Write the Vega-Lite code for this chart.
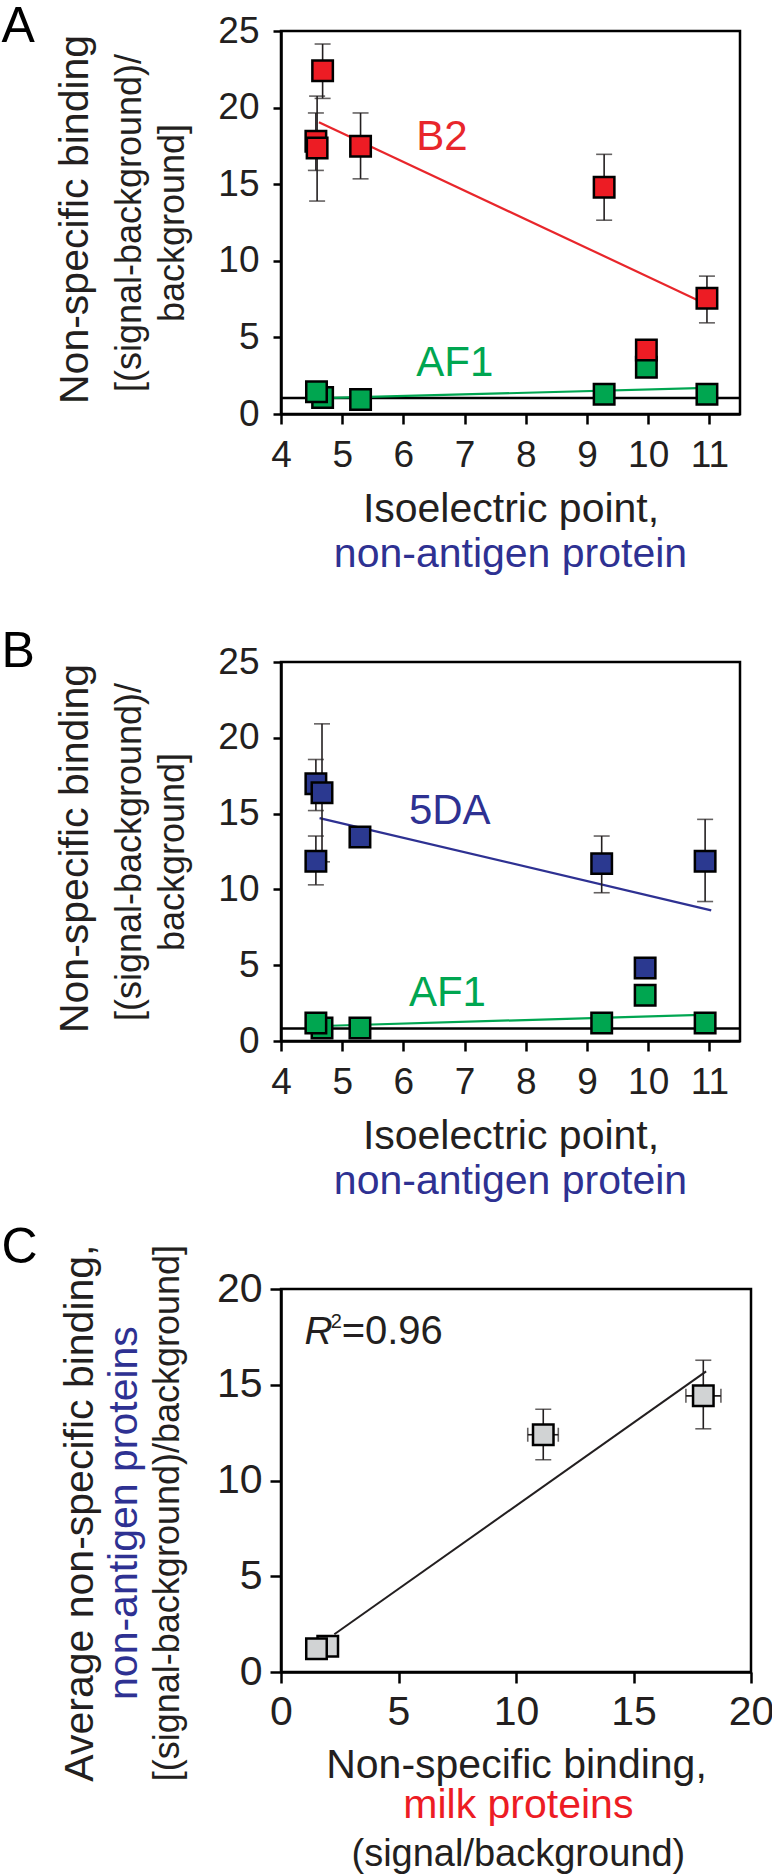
{
  "$schema": "https://vega.github.io/schema/vega-lite/v6.json",
  "background": "white",
  "padding": {"left": 0, "top": 0, "right": 0, "bottom": 0},
  "config": {
    "font": "Liberation Sans",
    "view": {"stroke": "#000", "strokeWidth": 2.5},
    "axis": {"grid": false, "domainColor": "#000", "domainWidth": 2.5, "tickColor": "#000", "tickWidth": 2.5, "labelColor": "#231f20", "titleColor": "#231f20", "labelFont": "Liberation Sans", "titleFont": "Liberation Sans", "titleFontWeight": "normal", "labelFlush": false, "labelOverlap": false, "labelBound": false, "titleLimit": 2000, "labelLimit": 500}
  },
  "resolve": {"scale": {"color": "independent", "fill": "independent"}},
  "datasets": {
    "aSq": [
      {"pi": 4.68, "v": 1.08, "grp": "AF1"},
      {"pi": 4.58, "v": 1.46, "grp": "AF1"},
      {"pi": 5.30, "v": 0.94, "grp": "AF1"},
      {"pi": 9.28, "v": 1.29, "grp": "AF1"},
      {"pi": 10.96, "v": 1.29, "grp": "AF1"},
      {"pi": 9.97, "v": 3.05, "grp": "AF1"},
      {"pi": 9.97, "v": 4.17, "grp": "B2"},
      {"pi": 4.57, "v": 17.8, "grp": "B2"},
      {"pi": 4.59, "v": 17.36, "grp": "B2"},
      {"pi": 4.68, "v": 22.4, "grp": "B2"},
      {"pi": 5.30, "v": 17.48, "grp": "B2"},
      {"pi": 9.28, "v": 14.8, "grp": "B2"},
      {"pi": 10.96, "v": 7.55, "grp": "B2"}
    ],
    "aErr": [
      {"pi": 4.68, "lo": 20.6, "hi": 24.15},
      {"pi": 4.57, "lo": 15.9, "hi": 19.65},
      {"pi": 4.59, "lo": 13.9, "hi": 20.75},
      {"pi": 5.30, "lo": 15.35, "hi": 19.65},
      {"pi": 9.28, "lo": 12.65, "hi": 16.95},
      {"pi": 10.96, "lo": 5.95, "hi": 9.0}
    ],
    "aFit": [
      {"pi": 4.62, "v": 19.05, "grp": "B2"},
      {"pi": 10.95, "v": 7.17, "grp": "B2"},
      {"pi": 4.65, "v": 1.03, "grp": "AF1"},
      {"pi": 10.96, "v": 1.7, "grp": "AF1"}
    ],
    "bSq": [
      {"pi": 4.67, "v": 0.86, "grp": "AF1"},
      {"pi": 4.57, "v": 1.19, "grp": "AF1"},
      {"pi": 5.29, "v": 0.86, "grp": "AF1"},
      {"pi": 9.24, "v": 1.19, "grp": "AF1"},
      {"pi": 10.93, "v": 1.19, "grp": "AF1"},
      {"pi": 9.95, "v": 3.01, "grp": "AF1"},
      {"pi": 9.95, "v": 4.81, "grp": "5DA"},
      {"pi": 4.57, "v": 11.85, "grp": "5DA"},
      {"pi": 5.29, "v": 13.45, "grp": "5DA"},
      {"pi": 9.24, "v": 11.7, "grp": "5DA"},
      {"pi": 10.93, "v": 11.85, "grp": "5DA"},
      {"pi": 4.57, "v": 16.97, "grp": "5DA"},
      {"pi": 4.67, "v": 16.37, "grp": "5DA"}
    ],
    "bErr": [
      {"pi": 4.57, "lo": 15.2, "hi": 18.57},
      {"pi": 4.67, "lo": 11.82, "hi": 20.92},
      {"pi": 4.57, "lo": 10.3, "hi": 13.52},
      {"pi": 5.29, "lo": 12.95, "hi": 13.95},
      {"pi": 9.24, "lo": 9.78, "hi": 13.52},
      {"pi": 10.93, "lo": 9.2, "hi": 14.62}
    ],
    "bFit": [
      {"pi": 4.63, "v": 14.7, "grp": "5DA"},
      {"pi": 11.03, "v": 8.62, "grp": "5DA"},
      {"pi": 4.67, "v": 0.99, "grp": "AF1"},
      {"pi": 11.0, "v": 1.74, "grp": "AF1"}
    ],
    "cSq": [
      {"m": 1.99, "n": 1.35},
      {"m": 1.51, "n": 1.21},
      {"m": 11.16, "n": 12.39},
      {"m": 17.97, "n": 14.42}
    ],
    "cErr": [
      {"m": 11.16, "n": 12.39, "lo": 11.08, "hi": 13.72, "xlo": 10.5, "xhi": 11.8},
      {"m": 17.97, "n": 14.42, "lo": 12.7, "hi": 16.28, "xlo": 17.23, "xhi": 18.72}
    ],
    "cFit": [
      {"m": 2.27, "n": 1.97},
      {"m": 18.09, "n": 15.7}
    ]
  },
  "columns": 1,
  "spacing": 248,
  "bounds": "flush",
  "align": "each",
  "concat": [
    {
      "width": 459,
      "height": 383,
      "layer": [
        {"data": {"name": "aSq"}, "mark": {"type": "square", "size": 420, "opacity": 0},
         "encoding": {
           "x": {"field": "pi", "type": "quantitative", "scale": {"domain": [4, 11.5], "nice": false},
                 "axis": {"values": [4, 5, 6, 7, 8, 9, 10, 11], "format": "d", "tickSize": 10, "labelPadding": 13.5, "labelFontSize": 37, "title": "Isoelectric point,", "titleFontSize": 41, "titlePadding": 15.5}},
           "y": {"field": "v", "type": "quantitative", "scale": {"domain": [0, 25], "nice": false},
                 "axis": {"values": [0, 5, 10, 15, 20, 25], "format": "d", "tickSize": 8, "labelPadding": 14, "labelFontSize": 37, "title": ["[(signal-background)/", "background]"], "titleFontSize": 36, "titleLineHeight": 43, "titlePadding": 26}}}},
        {"data": {"values": [{}]}, "mark": {"type": "rule", "color": "#000", "strokeWidth": 2.5},
         "encoding": {"y": {"datum": 1.05, "type": "quantitative"}}},
        {"data": {"name": "aFit"}, "mark": {"type": "line", "strokeWidth": 2.2},
         "encoding": {
           "x": {"field": "pi", "type": "quantitative"},
           "y": {"field": "v", "type": "quantitative"},
           "color": {"field": "grp", "type": "nominal", "scale": {"domain": ["B2", "AF1"], "range": ["#e8262b", "#00a651"]}, "legend": null}}},
        {"data": {"name": "aErr"}, "mark": {"type": "rule", "color": "#231f20", "strokeWidth": 1.6},
         "encoding": {
           "x": {"field": "pi", "type": "quantitative"},
           "y": {"field": "lo", "type": "quantitative"},
           "y2": {"field": "hi"}}},
        {"data": {"name": "aErr"}, "mark": {"type": "tick", "orient": "horizontal", "size": 16, "thickness": 1.6, "color": "#231f20"},
         "encoding": {
           "x": {"field": "pi", "type": "quantitative"},
           "y": {"field": "lo", "type": "quantitative"}}},
        {"data": {"name": "aErr"}, "mark": {"type": "tick", "orient": "horizontal", "size": 16, "thickness": 1.6, "color": "#231f20"},
         "encoding": {
           "x": {"field": "pi", "type": "quantitative"},
           "y": {"field": "hi", "type": "quantitative"}}},
        {"data": {"name": "aSq"}, "mark": {"type": "square", "size": 420, "stroke": "#000", "strokeWidth": 2.5, "opacity": 1, "filled": true},
         "encoding": {
           "x": {"field": "pi", "type": "quantitative"},
           "y": {"field": "v", "type": "quantitative"},
           "fill": {"field": "grp", "type": "nominal", "scale": {"domain": ["B2", "AF1"], "range": ["#ed1c24", "#00a650"]}, "legend": null}}},
        {"data": {"values": [{}]}, "mark": {"type": "text", "text": "A", "align": "left", "baseline": "alphabetic", "fontSize": 50, "color": "#000"},
         "encoding": {"x": {"datum": -0.567, "type": "quantitative"}, "y": {"datum": 24.3, "type": "quantitative"}}},
        {"data": {"values": [{}]}, "mark": {"type": "text", "text": "B2", "align": "left", "baseline": "alphabetic", "fontSize": 42, "color": "#e8262b"},
         "encoding": {"x": {"datum": 6.21, "type": "quantitative"}, "y": {"datum": 17.2, "type": "quantitative"}}},
        {"data": {"values": [{}]}, "mark": {"type": "text", "text": "AF1", "align": "left", "baseline": "alphabetic", "fontSize": 42, "color": "#00a651"},
         "encoding": {"x": {"datum": 6.21, "type": "quantitative"}, "y": {"datum": 2.47, "type": "quantitative"}}},
        {"data": {"values": [{}]}, "mark": {"type": "text", "text": "non-antigen protein", "align": "center", "baseline": "alphabetic", "fontSize": 41, "color": "#2e3192"},
         "encoding": {"x": {"datum": 7.75, "type": "quantitative"}, "y": {"datum": -9.97, "type": "quantitative"}}},
        {"data": {"values": [{}]}, "mark": {"type": "text", "text": "Non-specific binding", "angle": 270, "align": "center", "baseline": "alphabetic", "fontSize": 41, "color": "#231f20"},
         "encoding": {"x": {"datum": 0.854, "type": "quantitative"}, "y": {"datum": 12.7, "type": "quantitative"}}}
      ]
    },
    {
      "width": 459,
      "height": 379,
      "layer": [
        {"data": {"name": "bSq"}, "mark": {"type": "square", "size": 420, "opacity": 0},
         "encoding": {
           "x": {"field": "pi", "type": "quantitative", "scale": {"domain": [4, 11.5], "nice": false},
                 "axis": {"values": [4, 5, 6, 7, 8, 9, 10, 11], "format": "d", "tickSize": 10, "labelPadding": 13.5, "labelFontSize": 37, "title": "Isoelectric point,", "titleFontSize": 41, "titlePadding": 15.5}},
           "y": {"field": "v", "type": "quantitative", "scale": {"domain": [0, 25], "nice": false},
                 "axis": {"values": [0, 5, 10, 15, 20, 25], "format": "d", "tickSize": 8, "labelPadding": 14, "labelFontSize": 37, "title": ["[(signal-background)/", "background]"], "titleFontSize": 36, "titleLineHeight": 43, "titlePadding": 26}}}},
        {"data": {"values": [{}]}, "mark": {"type": "rule", "color": "#000", "strokeWidth": 2.5},
         "encoding": {"y": {"datum": 0.82, "type": "quantitative"}}},
        {"data": {"name": "bFit"}, "mark": {"type": "line", "strokeWidth": 2.2},
         "encoding": {
           "x": {"field": "pi", "type": "quantitative"},
           "y": {"field": "v", "type": "quantitative"},
           "color": {"field": "grp", "type": "nominal", "scale": {"domain": ["5DA", "AF1"], "range": ["#2e3192", "#00a651"]}, "legend": null}}},
        {"data": {"name": "bErr"}, "mark": {"type": "rule", "color": "#231f20", "strokeWidth": 1.6},
         "encoding": {
           "x": {"field": "pi", "type": "quantitative"},
           "y": {"field": "lo", "type": "quantitative"},
           "y2": {"field": "hi"}}},
        {"data": {"name": "bErr"}, "mark": {"type": "tick", "orient": "horizontal", "size": 16, "thickness": 1.6, "color": "#231f20"},
         "encoding": {
           "x": {"field": "pi", "type": "quantitative"},
           "y": {"field": "lo", "type": "quantitative"}}},
        {"data": {"name": "bErr"}, "mark": {"type": "tick", "orient": "horizontal", "size": 16, "thickness": 1.6, "color": "#231f20"},
         "encoding": {
           "x": {"field": "pi", "type": "quantitative"},
           "y": {"field": "hi", "type": "quantitative"}}},
        {"data": {"name": "bSq"}, "mark": {"type": "square", "size": 420, "stroke": "#000", "strokeWidth": 2.5, "opacity": 1, "filled": true},
         "encoding": {
           "x": {"field": "pi", "type": "quantitative"},
           "y": {"field": "v", "type": "quantitative"},
           "fill": {"field": "grp", "type": "nominal", "scale": {"domain": ["5DA", "AF1"], "range": ["#2b3990", "#00a650"]}, "legend": null}}},
        {"data": {"values": [{}]}, "mark": {"type": "text", "text": "B", "align": "left", "baseline": "alphabetic", "fontSize": 50, "color": "#000"},
         "encoding": {"x": {"datum": -0.567, "type": "quantitative"}, "y": {"datum": 24.7, "type": "quantitative"}}},
        {"data": {"values": [{}]}, "mark": {"type": "text", "text": "5DA", "align": "left", "baseline": "alphabetic", "fontSize": 42, "color": "#2e3192"},
         "encoding": {"x": {"datum": 6.09, "type": "quantitative"}, "y": {"datum": 14.33, "type": "quantitative"}}},
        {"data": {"values": [{}]}, "mark": {"type": "text", "text": "AF1", "align": "left", "baseline": "alphabetic", "fontSize": 42, "color": "#00a651"},
         "encoding": {"x": {"datum": 6.09, "type": "quantitative"}, "y": {"datum": 2.31, "type": "quantitative"}}},
        {"data": {"values": [{}]}, "mark": {"type": "text", "text": "non-antigen protein", "align": "center", "baseline": "alphabetic", "fontSize": 41, "color": "#2e3192"},
         "encoding": {"x": {"datum": 7.75, "type": "quantitative"}, "y": {"datum": -10.07, "type": "quantitative"}}},
        {"data": {"values": [{}]}, "mark": {"type": "text", "text": "Non-specific binding", "angle": 270, "align": "center", "baseline": "alphabetic", "fontSize": 41, "color": "#231f20"},
         "encoding": {"x": {"datum": 0.854, "type": "quantitative"}, "y": {"datum": 12.7, "type": "quantitative"}}}
      ]
    },
    {
      "width": 470,
      "height": 383,
      "layer": [
        {"data": {"name": "cSq"}, "mark": {"type": "square", "size": 420, "opacity": 0},
         "encoding": {
           "x": {"field": "m", "type": "quantitative", "scale": {"domain": [0, 20], "nice": false},
                 "axis": {"values": [0, 5, 10, 15, 20], "format": "d", "tickSize": 11, "labelPadding": 9, "labelFontSize": 41, "title": "Non-specific binding,", "titleFontSize": 41, "titlePadding": 13.4}},
           "y": {"field": "n", "type": "quantitative", "scale": {"domain": [0, 20], "nice": false},
                 "axis": {"values": [0, 5, 10, 15, 20], "format": "d", "tickSize": 11, "labelPadding": 8, "labelFontSize": 41, "title": null}}}},
        {"data": {"name": "cFit"}, "mark": {"type": "line", "strokeWidth": 2, "color": "#231f20"},
         "encoding": {
           "x": {"field": "m", "type": "quantitative"},
           "y": {"field": "n", "type": "quantitative"}}},
        {"data": {"name": "cErr"}, "mark": {"type": "rule", "color": "#231f20", "strokeWidth": 1.6},
         "encoding": {
           "x": {"field": "m", "type": "quantitative"},
           "y": {"field": "lo", "type": "quantitative"},
           "y2": {"field": "hi"}}},
        {"data": {"name": "cErr"}, "mark": {"type": "rule", "color": "#231f20", "strokeWidth": 1.6},
         "encoding": {
           "x": {"field": "xlo", "type": "quantitative"},
           "x2": {"field": "xhi"},
           "y": {"field": "n", "type": "quantitative"}}},
        {"data": {"name": "cErr"}, "mark": {"type": "tick", "orient": "horizontal", "size": 16, "thickness": 1.6, "color": "#231f20"},
         "encoding": {
           "x": {"field": "m", "type": "quantitative"},
           "y": {"field": "lo", "type": "quantitative"}}},
        {"data": {"name": "cErr"}, "mark": {"type": "tick", "orient": "horizontal", "size": 16, "thickness": 1.6, "color": "#231f20"},
         "encoding": {
           "x": {"field": "m", "type": "quantitative"},
           "y": {"field": "hi", "type": "quantitative"}}},
        {"data": {"name": "cErr"}, "mark": {"type": "tick", "orient": "vertical", "size": 14, "thickness": 1.6, "color": "#231f20"},
         "encoding": {
           "x": {"field": "xlo", "type": "quantitative"},
           "y": {"field": "n", "type": "quantitative"}}},
        {"data": {"name": "cErr"}, "mark": {"type": "tick", "orient": "vertical", "size": 14, "thickness": 1.6, "color": "#231f20"},
         "encoding": {
           "x": {"field": "xhi", "type": "quantitative"},
           "y": {"field": "n", "type": "quantitative"}}},
        {"data": {"name": "cSq"}, "mark": {"type": "square", "size": 420, "stroke": "#000", "strokeWidth": 2.5, "opacity": 1, "filled": true, "fill": "#d1d3d4"},
         "encoding": {
           "x": {"field": "m", "type": "quantitative"},
           "y": {"field": "n", "type": "quantitative"}}},
        {"data": {"values": [{}]}, "mark": {"type": "text", "text": "C", "align": "left", "baseline": "alphabetic", "fontSize": 50, "color": "#000"},
         "encoding": {"x": {"datum": -11.894, "type": "quantitative"}, "y": {"datum": 21.38, "type": "quantitative"}}},
        {"data": {"values": [{}]}, "mark": {"type": "text", "text": "R", "align": "left", "baseline": "alphabetic", "fontSize": 39, "fontStyle": "italic", "color": "#231f20"},
         "encoding": {"x": {"datum": 1.0, "type": "quantitative"}, "y": {"datum": 17.11, "type": "quantitative"}}},
        {"data": {"values": [{}]}, "mark": {"type": "text", "text": "2", "align": "left", "baseline": "alphabetic", "fontSize": 20, "color": "#231f20"},
         "encoding": {"x": {"datum": 2.12, "type": "quantitative"}, "y": {"datum": 17.95, "type": "quantitative"}}},
        {"data": {"values": [{}]}, "mark": {"type": "text", "text": "=0.96", "align": "left", "baseline": "alphabetic", "fontSize": 40, "color": "#231f20"},
         "encoding": {"x": {"datum": 2.58, "type": "quantitative"}, "y": {"datum": 17.11, "type": "quantitative"}}},
        {"data": {"values": [{}]}, "mark": {"type": "text", "text": "milk proteins", "align": "center", "baseline": "alphabetic", "fontSize": 41, "color": "#ed1c24"},
         "encoding": {"x": {"datum": 10.1, "type": "quantitative"}, "y": {"datum": -7.62, "type": "quantitative"}}},
        {"data": {"values": [{}]}, "mark": {"type": "text", "text": "(signal/background)", "align": "center", "baseline": "alphabetic", "fontSize": 38, "color": "#231f20"},
         "encoding": {"x": {"datum": 10.1, "type": "quantitative"}, "y": {"datum": -10.13, "type": "quantitative"}}},
        {"data": {"values": [{}]}, "mark": {"type": "text", "text": "[(signal-background)/background]", "angle": 270, "align": "center", "baseline": "alphabetic", "fontSize": 36, "color": "#231f20"},
         "encoding": {"x": {"datum": -4.345, "type": "quantitative"}, "y": {"datum": 8.3, "type": "quantitative"}}},
        {"data": {"values": [{}]}, "mark": {"type": "text", "text": "non-antigen proteins", "angle": 270, "align": "center", "baseline": "alphabetic", "fontSize": 41, "color": "#2e3192"},
         "encoding": {"x": {"datum": -6.13, "type": "quantitative"}, "y": {"datum": 8.3, "type": "quantitative"}}},
        {"data": {"values": [{}]}, "mark": {"type": "text", "text": "Average non-specific binding,", "angle": 270, "align": "center", "baseline": "alphabetic", "fontSize": 41, "color": "#231f20"},
         "encoding": {"x": {"datum": -8.0, "type": "quantitative"}, "y": {"datum": 8.3, "type": "quantitative"}}}
      ]
    }
  ]
}
